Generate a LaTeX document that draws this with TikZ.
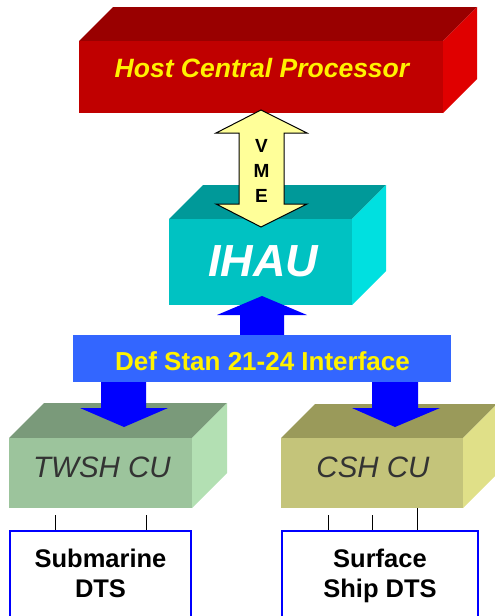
\documentclass[tikz,border=0pt]{standalone}
\usepackage{fontspec}
\setmainfont{Liberation Sans}
\definecolor{hostF}{HTML}{C00000}
\definecolor{hostT}{HTML}{990000}
\definecolor{hostR}{HTML}{E00000}
\definecolor{ihauF}{HTML}{00C2C2}
\definecolor{ihauT}{HTML}{009999}
\definecolor{ihauR}{HTML}{00E0E0}
\definecolor{twF}{HTML}{9CC49C}
\definecolor{twT}{HTML}{7A9A7A}
\definecolor{twR}{HTML}{B3E0B3}
\definecolor{csF}{HTML}{C4C47A}
\definecolor{csT}{HTML}{9A9A5A}
\definecolor{csR}{HTML}{E0E088}
\definecolor{ifc}{HTML}{3366FF}
\definecolor{vmeY}{HTML}{FFFF99}
\definecolor{cuText}{HTML}{333333}
\newcommand\cubeface[8]{% x1 y1 x2 y2 d front top right
  \fill[#7] (#1,#2) -- ++(#5,-#5) -- (#3+#5,#2-#5) -- (#3,#2) -- cycle;
  \fill[#8] (#3,#2) -- (#3+#5,#2-#5) -- (#3+#5,#4-#5) -- (#3,#4) -- cycle;
  \fill[#6] (#1,#2) rectangle (#3,#4);
}
\begin{document}
\begin{tikzpicture}[x=1pt,y=-1pt,
  lbl/.style={inner sep=0pt,anchor=base},
  dtsbox/.style={draw={rgb,255:red,0;green,0;blue,255},line width=1.5pt,fill=white},
  tick/.style={line width=1pt,black}]
\useasboundingbox (0,0) rectangle (495,616);
% Host
\cubeface{79}{41}{443}{113}{34}{hostF}{hostT}{hostR}
\node[lbl,text=yellow,font=\fontsize{26.5}{30}\selectfont\bfseries\itshape] (hosttxt) at (262,77) {Host Central Processor};
% IHAU
\cubeface{169}{219}{352}{305}{34}{ihauF}{ihauT}{ihauR}
\node[lbl,text=white,font=\fontsize{45}{50}\selectfont\bfseries\itshape] (ihautxt) at (263,276) {IHAU};
% VME arrow
\filldraw[fill=vmeY,draw=black,line width=1pt] (261,110) -- (307,133) -- (284,133) -- (284,204) -- (307,204) -- (261,227) -- (216,204) -- (239,204) -- (239,133) -- (216,133) -- cycle;
\node[lbl,font=\fontsize{19}{22}\selectfont\bfseries] (v) at (261.5,152) {V};
\node[lbl,font=\fontsize{19}{22}\selectfont\bfseries] (m) at (261.5,177) {M};
\node[lbl,font=\fontsize{19}{22}\selectfont\bfseries] (e) at (261.5,202) {E};
% CU boxes
\cubeface{9}{438}{192}{508}{35}{twF}{twT}{twR}
\node[lbl,text=cuText,font=\fontsize{29.5}{32}\selectfont\itshape] (twtxt) at (102,477) {TWSH CU};
\cubeface{281}{438}{463}{508}{34}{csF}{csT}{csR}
\node[lbl,text=cuText,font=\fontsize{29.5}{32}\selectfont\itshape] (cstxt) at (373,477) {CSH CU};
% blue arrows
\fill[blue] (240,335) -- (240,315) -- (217,315) -- (262,296) -- (307,315) -- (284,315) -- (284,335) -- cycle;
\fill[blue] (101,380) -- (101,408) -- (80,408) -- (124,427) -- (168,408) -- (146,408) -- (146,380) -- cycle;
\fill[blue] (372,380) -- (372,408) -- (352,408) -- (395,427) -- (440,408) -- (418,408) -- (418,380) -- cycle;
% Interface bar
\node[fill=ifc,minimum width=378pt,minimum height=47pt,inner sep=0pt,anchor=north west] (ifcbar) at (73,335) {};
\node[lbl,text=yellow,font=\fontsize{26}{30}\selectfont\bfseries] (ifctxt) at (262.5,370) {Def Stan 21-24 Interface};
% DTS boxes
\draw[dtsbox] (10,531) rectangle (191,625);
\node[lbl,font=\fontsize{25.5}{30}\selectfont\bfseries] (sub1) at (100.5,567) {Submarine};
\node[lbl,font=\fontsize{25.5}{30}\selectfont\bfseries] (sub2) at (100.5,597) {DTS};
\draw[dtsbox] (282,531) rectangle (478,625);
\node[lbl,font=\fontsize{25.5}{30}\selectfont\bfseries] (sur1) at (380,567) {Surface};
\node[lbl,font=\fontsize{25.5}{30}\selectfont\bfseries] (sur2) at (380,597) {Ship DTS};
% ticks
\draw[tick] (55,515) -- (55,530);
\draw[tick] (146,515) -- (146,530);
\draw[tick] (328,515) -- (328,530);
\draw[tick] (372,515) -- (372,530);
\draw[tick] (417,508) -- (417,530);
\end{tikzpicture}
\end{document}
